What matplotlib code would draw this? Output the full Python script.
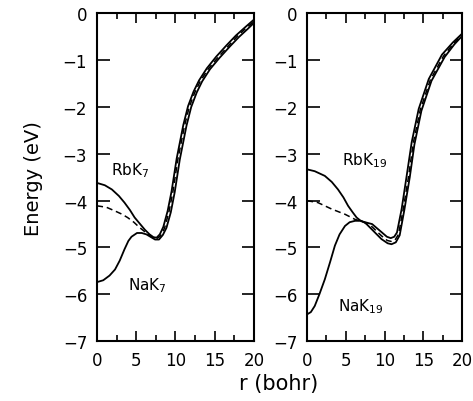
import matplotlib
matplotlib.use("Agg")
import matplotlib.pyplot as plt
from matplotlib.ticker import MultipleLocator

# ---------------- data ----------------
# Left panel: 7-atom clusters
rb7_r = [0, 1.0, 1.9, 2.8, 3.5, 4.2, 4.8, 5.5, 6.1, 6.7, 7.2, 7.6, 8.0, 8.45, 9.0, 9.5, 10.15, 11.0, 11.6, 12.3, 13.0, 14.0, 15.2, 16.5, 17.7, 18.9, 20]
rb7_E = [-3.62, -3.67, -3.76, -3.90, -4.04, -4.20, -4.36, -4.50, -4.62, -4.72, -4.78, -4.79, -4.72, -4.56, -4.22, -3.80, -3.10, -2.38, -1.98, -1.67, -1.43, -1.17, -0.92, -0.68, -0.47, -0.29, -0.13]

na7_r = [0, 0.8, 1.6, 2.3, 2.9, 3.5, 4.0, 4.4, 5.1, 5.7, 6.3, 6.9, 7.4, 7.9, 8.4, 8.85, 9.4, 9.9, 10.55, 11.4, 12.0, 12.7, 13.4, 14.4, 15.6, 16.9, 18.1, 19.2, 20]
na7_E = [-5.74, -5.70, -5.60, -5.47, -5.28, -5.04, -4.86, -4.77, -4.69, -4.69, -4.72, -4.78, -4.83, -4.83, -4.73, -4.58, -4.25, -3.82, -3.12, -2.40, -2.00, -1.69, -1.45, -1.19, -0.95, -0.71, -0.50, -0.33, -0.20]

mix7_r = [0, 1.2, 2.3, 3.2, 3.9, 4.7, 5.4, 6.0, 6.6, 7.1, 7.6, 8.05, 8.6, 9.15, 9.65, 10.3, 11.15, 11.75, 12.45, 13.15, 14.15, 15.35, 16.65, 17.85, 19.0, 20]
mix7_E = [-4.11, -4.14, -4.22, -4.29, -4.36, -4.46, -4.57, -4.65, -4.73, -4.79, -4.81, -4.76, -4.59, -4.25, -3.83, -3.12, -2.40, -2.00, -1.69, -1.45, -1.19, -0.95, -0.71, -0.49, -0.31, -0.17]

# Right panel: 19-atom clusters
rb19_r = [0, 1.0, 2.3, 3.2, 4.0, 4.7, 5.3, 5.9, 6.4, 7.0, 7.5, 8.4, 9.6, 10.3, 10.8, 11.25, 11.6, 12.2, 12.85, 13.5, 14.4, 15.7, 17.4, 18.8, 20]
rb19_E = [-3.33, -3.37, -3.47, -3.60, -3.76, -3.93, -4.11, -4.25, -4.36, -4.44, -4.46, -4.50, -4.67, -4.77, -4.80, -4.77, -4.68, -4.18, -3.47, -2.75, -2.04, -1.40, -0.88, -0.62, -0.43]

na19_r = [0, 0.5, 1.0, 1.6, 2.3, 3.0, 3.6, 4.2, 4.9, 5.5, 6.2, 7.0, 7.5, 8.4, 9.6, 10.4, 10.9, 11.45, 11.95, 12.55, 13.25, 13.85, 14.75, 16.05, 17.75, 19.0, 20]
na19_E = [-6.43, -6.38, -6.25, -6.00, -5.68, -5.30, -4.96, -4.72, -4.54, -4.46, -4.43, -4.43, -4.47, -4.62, -4.82, -4.91, -4.93, -4.89, -4.74, -4.20, -3.50, -2.80, -2.08, -1.44, -0.93, -0.66, -0.48]

mix19_r = [0, 1.4, 3.2, 4.9, 6.2, 7.2, 8.4, 9.6, 10.35, 10.85, 11.35, 11.8, 12.4, 13.1, 13.7, 14.6, 15.9, 17.6, 18.9, 20]
mix19_E = [-4.00, -4.04, -4.18, -4.29, -4.40, -4.45, -4.56, -4.75, -4.85, -4.87, -4.84, -4.72, -4.19, -3.48, -2.77, -2.06, -1.42, -0.91, -0.64, -0.46]

panels = [
    dict(rb=(rb7_r, rb7_E), na=(na7_r, na7_E), mix=(mix7_r, mix7_E),
         rb_label=("RbK$_7$", 4.2, -3.33), na_label=("NaK$_7$", 6.4, -5.8)),
    dict(rb=(rb19_r, rb19_E), na=(na19_r, na19_E), mix=(mix19_r, mix19_E),
         rb_label=("RbK$_{19}$", 7.4, -3.12), na_label=("NaK$_{19}$", 7.0, -6.24)),
]

xticks = [0, 5, 10, 15, 20]
yticks = [0, -1, -2, -3, -4, -5, -6, -7]

# ---------------- figure ----------------
plt.rcParams['font.family'] = ['DejaVu Sans']
plt.rcParams['mathtext.fontset'] = 'dejavusans'
fig = plt.figure(figsize=(4.73, 4.02), dpi=100)
positions = [[0.205, 0.149, 0.332, 0.815], [0.649, 0.149, 0.328, 0.815]]

for i, (pos, p) in enumerate(zip(positions, panels)):
    ax = fig.add_axes(pos)
    ax.plot(*p['rb'], color='black', lw=1.3)
    ax.plot(*p['na'], color='black', lw=1.3)
    ax.plot(*p['mix'], color='black', lw=1.1, ls=(0, (4, 2.5)))
    ax.set_xlim(0, 20)
    ax.set_ylim(-7, 0)
    ax.set_xticks(xticks)
    ax.set_yticks(yticks)
    ax.xaxis.set_minor_locator(MultipleLocator(2.5))
    ax.tick_params(which='both', direction='in', top=True, right=True,
                   labelsize=12, width=1.2, pad=7)
    ax.tick_params(which='major', axis='x', length=7)
    ax.tick_params(which='minor', axis='x', length=4)
    ax.tick_params(which='major', axis='y', length=9)
    for s in ax.spines.values():
        s.set_linewidth(1.5)
    t, x, y = p['rb_label']
    ax.text(x, y, t, fontsize=11, ha='center', va='center')
    t, x, y = p['na_label']
    ax.text(x, y, t, fontsize=11, ha='center', va='center')
    if i == 0:
        ax.set_ylabel('Energy (eV)', fontsize=14, labelpad=14)

fig.text(0.59, 0.045, 'r (bohr)', fontsize=15, ha='center', va='center')
fig.savefig('out.png', dpi=100)
